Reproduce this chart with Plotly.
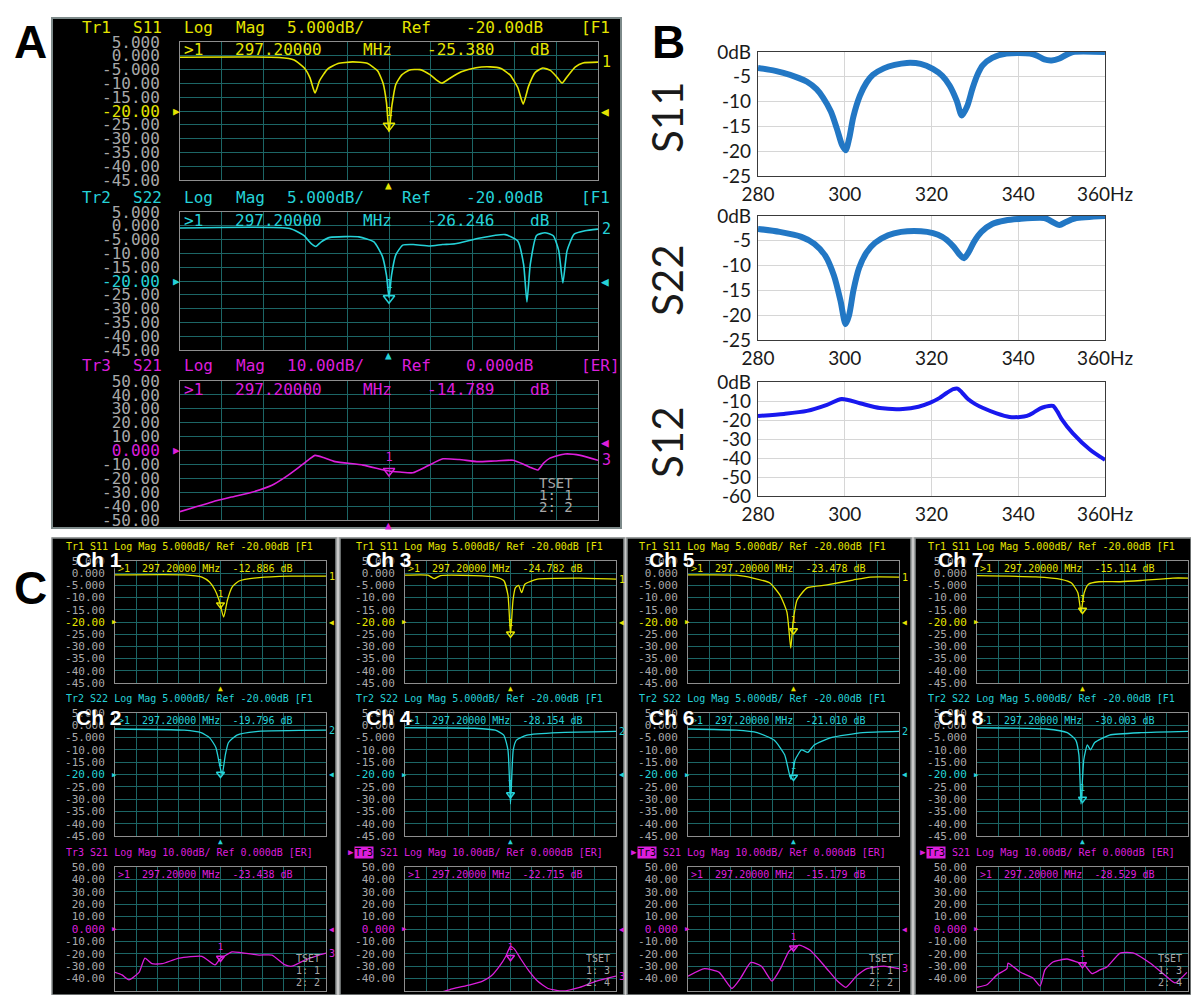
import re
import plotly.graph_objects as go

W, H = 1191, 995
def px(x): return x / W
def py(y): return 1 - y / H

# ---------------- data ----------------
F0, F1 = 247.2, 347.2          # VNA sweep (MHz), 10 MHz / div
MARK_F = 297.2                  # marker 1 frequency

# Panel A (VNA, one device)
A_S11_F = [247.2, 270.9, 274.5, 277.0, 278.3, 279.5, 280.6, 282.5, 285.0, 288.5, 292.0, 294.5, 295.8, 296.6, 297.2, 297.9, 298.8, 300.2, 302.0, 304.6, 307.0, 308.6, 309.9, 311.5, 314.5, 318.0, 321.4, 324.0, 326.2, 328.0, 329.3, 330.6, 332.2, 334.0, 335.8, 337.4, 338.6, 340.0, 341.8, 343.6, 347.2]
A_S11_DB = [-0.5, -0.6, -1.5, -4.5, -8.0, -13.5, -9.0, -4.8, -2.8, -2.2, -2.7, -5.5, -10.0, -17.0, -27.5, -18.0, -10.5, -7.0, -5.2, -5.0, -6.8, -8.8, -9.9, -8.4, -5.8, -4.3, -4.0, -4.6, -7.0, -11.5, -17.5, -11.0, -6.0, -4.4, -5.3, -7.8, -9.9, -7.2, -4.0, -2.6, -2.3]
A_S22_F = [247.2, 273.5, 276.8, 278.6, 279.7, 281.0, 283.1, 290.0, 293.6, 295.6, 296.6, 297.2, 297.8, 298.8, 300.5, 303.0, 307.0, 310.0, 313.0, 319.0, 325.0, 328.0, 329.4, 330.2, 331.0, 332.5, 334.5, 336.5, 337.8, 338.8, 339.8, 341.5, 344.1, 347.2]
A_S22_DB = [-0.8, -1.0, -3.5, -6.5, -7.5, -5.8, -4.2, -4.0, -5.8, -11.0, -18.0, -26.0, -18.0, -10.6, -7.0, -6.8, -7.3, -6.8, -6.5, -4.4, -3.2, -5.5, -14.0, -27.6, -14.0, -3.5, -2.5, -3.6, -9.0, -20.7, -9.0, -3.0, -1.8, -1.2]
A_S21_F = [247.2, 250.5, 254.9, 259.5, 264.4, 269.2, 272.5, 275.7, 278.0, 279.5, 281.5, 284.3, 291.0, 297.2, 299.8, 302.9, 306.5, 310.1, 314.0, 318.2, 322.5, 326.9, 329.5, 330.9, 332.8, 334.2, 335.7, 339.3, 343.0, 347.2]
A_S21_DB = [-44.0, -41.0, -37.0, -33.5, -30.0, -25.0, -19.0, -12.0, -6.5, -3.5, -5.0, -8.0, -10.5, -14.8, -15.5, -16.0, -11.0, -6.0, -6.5, -8.0, -7.5, -7.0, -10.0, -12.0, -14.0, -9.0, -5.5, -2.5, -3.5, -7.0]
A_MARK = [-25.380, -26.246, -14.789]

# Panel B (simulation)
B_F_TICKS = [280, 300, 320, 340, 360]
B_F_LABELS = ["280", "300", "320", "340", "360Hz"]
B_S11_F = [280, 284, 287.4, 291.3, 293.5, 295.0, 296.8, 298.2, 299.4, 300.2, 301.0, 302.0, 303.5, 305.0, 306.5, 309.0, 311.5, 314.3, 317.5, 320.3, 322.5, 324.2, 325.8, 327.0, 328.2, 329.5, 330.8, 331.8, 334.0, 337.3, 342.7, 344.5, 346.0, 347.7, 349.5, 351.0, 352.6, 360]
B_S11_DB = [-3.2, -3.8, -4.6, -6.0, -7.5, -9.2, -12.0, -15.5, -18.8, -19.8, -17.5, -13.0, -8.8, -6.2, -4.6, -3.3, -2.6, -2.2, -2.4, -3.4, -4.8, -6.8, -9.8, -12.8, -11.0, -7.2, -4.2, -2.7, -1.2, -0.3, -0.3, -0.8, -1.5, -1.7, -1.3, -0.6, 0.0, 0.0]
B_S22_F = [280, 285, 290, 293, 295.5, 297.5, 299.0, 300.2, 301.0, 302.0, 303.3, 305.0, 307.0, 310.0, 313.0, 316.0, 319.0, 321.5, 323.5, 325.2, 326.5, 327.5, 328.5, 329.8, 331.5, 334.0, 337.0, 340.0, 346.0, 347.5, 349.5, 351.0, 353.0, 360]
B_S22_DB = [-2.6, -3.2, -4.2, -5.6, -8.0, -12.0, -17.0, -21.8, -20.0, -15.0, -10.5, -7.4, -5.4, -3.9, -3.2, -3.0, -3.2, -3.8, -4.8, -6.3, -7.8, -8.5, -7.4, -5.2, -3.2, -1.6, -0.9, -0.6, -0.4, -1.0, -1.8, -1.2, -0.5, 0.0]
B_S12_F = [280, 286, 291.3, 295.9, 299.3, 303.5, 308.1, 313.4, 317.0, 319.6, 321.8, 323.5, 325.0, 326.0, 327.0, 328.4, 330.0, 331.9, 335, 338, 340.4, 342.0, 343.4, 345.0, 346.2, 348, 349.0, 350, 352.6, 356.5, 360]
B_S12_DB = [-17.9, -16.8, -15.2, -12.0, -8.9, -11.2, -13.7, -14.2, -13.0, -11.0, -8.5, -5.8, -3.8, -3.5, -5.5, -9.0, -11.5, -13.7, -16.5, -18.4, -18.4, -17.8, -16.3, -14.0, -13.0, -12.6, -15.5, -19.5, -27.0, -35.5, -41.0]

# Panel C (VNA, 8 channels: Ch1/Ch2, Ch3/Ch4, Ch5/Ch6, Ch7/Ch8)
C_S11_F = [
    [247.2, 280, 288.4, 292, 294.6, 296.5, 298.7, 300.5, 302.7, 306, 315.5, 330, 347.2],
    [247.2, 258, 261, 264, 280, 290, 294, 296, 297.2, 298.4, 299.5, 301, 302.5, 304, 310, 330, 347.2],
    [247.2, 270, 278, 286, 290.8, 294.1, 295.9, 297.0, 298.9, 303.6, 313.1, 325.4, 333.5, 347.2],
    [247.2, 275, 287, 292, 295, 296.5, 298, 300, 305, 315, 325, 340, 347.2],
]
C_S11_DB = [
    [-0.7, -0.7, -1.6, -3.6, -6.9, -11.0, -18.0, -11.0, -5.7, -3.2, -1.8, -1.2, -1.2],
    [-0.8, -0.8, -2.2, -1.0, -1.0, -1.6, -3.0, -9.0, -25.0, -11.0, -6.0, -5.0, -8.0, -4.5, -2.4, -2.0, -2.4],
    [-0.7, -0.8, -2.0, -4.0, -9.0, -16.0, -30.7, -20.0, -11.0, -6.0, -4.8, -2.8, -1.6, -1.6],
    [-1.0, -1.5, -2.5, -4.0, -8.0, -16.0, -8.0, -4.5, -3.5, -3.5, -3.0, -2.0, -2.0],
]
C_S22_F = [
    [247.2, 280, 288, 292, 295, 297, 298, 299.5, 301, 305, 315, 347.2],
    [247.2, 280, 290, 294, 296, 297.2, 298.5, 300, 305, 320, 347.2],
    [247.2, 270, 280, 288, 293, 296, 298, 301, 304, 307, 315, 330, 347.2],
    [247.2, 280, 290, 294, 295.5, 296.5, 297.8, 299.5, 301, 303, 310, 325, 347.2],
]
C_S22_DB = [
    [-1.5, -2.0, -3.0, -5.0, -9.0, -17.0, -20.0, -12.0, -7.0, -4.0, -2.5, -2.0],
    [-1.0, -1.2, -2.0, -4.0, -10.0, -32.0, -10.0, -6.0, -4.0, -3.0, -2.5],
    [-1.5, -2.0, -3.0, -6.0, -12.0, -22.0, -14.0, -10.0, -11.0, -8.0, -5.0, -3.0, -2.5],
    [-1.0, -1.5, -3.0, -6.0, -12.0, -32.0, -14.0, -8.0, -10.0, -7.0, -4.0, -3.0, -2.5],
]
C_S21_F = [
    [247.2, 250.5, 253.8, 258.6, 261.4, 264.7, 269.5, 277.5, 288.4, 294.6, 297.2, 298.9, 302.7, 315.5, 321.6, 327.8, 331.1, 337.3, 343.9, 347.2],
    [247.2, 262, 270, 278, 284, 288, 292, 295, 297.2, 299, 302, 306, 310, 315, 322, 330, 338, 347.2],
    [247.2, 255, 262, 268, 272, 277, 282, 287, 291, 295, 297.2, 300, 305, 312, 318, 322, 327, 332, 340, 347.2],
    [247.2, 251.9, 256.7, 261.4, 261.9, 267.6, 273.7, 277.1, 279.4, 283.2, 289.9, 296.0, 297.4, 301.7, 305.5, 308.8, 315.0, 321.1, 329.2, 337.3, 341.1, 346.7],
]
C_S21_DB = [
    [-35, -37, -41, -35, -23.5, -28, -28, -23.5, -22, -29, -23.4, -22, -18.5, -21, -21, -29, -30, -25, -21, -19.5],
    [-55, -52, -48, -45, -42, -38, -30, -22, -14, -16, -24, -34, -42, -48, -50, -47, -42, -38],
    [-38, -32, -35, -48, -40, -27, -30, -42, -32, -18, -15, -13, -17, -30, -42, -47, -38, -32, -30, -32],
    [-47, -45, -37, -32, -27.5, -34.7, -39.5, -46, -33, -26.6, -24.2, -27.4, -27.4, -36, -33, -30.6, -19.4, -19.2, -27.4, -38.7, -43.5, -35],
]
C_MARK_S11 = [-12.886, -24.782, -23.478, -15.114]
C_MARK_S22 = [-19.796, -28.154, -21.010, -30.003]
C_MARK_S21 = [-23.438, -22.715, -15.179, -28.529]
C_CH_TOP = ["Ch 1", "Ch 3", "Ch 5", "Ch 7"]
C_CH_MID = ["Ch 2", "Ch 4", "Ch 6", "Ch 8"]
C_TSET = [("1: 1", "2: 2"), ("1: 3", "2: 4"), ("1: 1", "2: 2"), ("1: 3", "2: 4")]

LOG5_VALS = [5, 0, -5, -10, -15, -20, -25, -30, -35, -40, -45]
LOG5_TEXT = ["5.000", "0.000", "-5.000", "-10.00", "-15.00", "-20.00", "-25.00", "-30.00", "-35.00", "-40.00", "-45.00"]
LOG10_VALS = [50, 40, 30, 20, 10, 0, -10, -20, -30, -40, -50]
LOG10_TEXT = ["50.00", "40.00", "30.00", "20.00", "10.00", "0.000", "-10.00", "-20.00", "-30.00", "-40.00", "-50.00"]

# ---------------- styles ----------------
YEL, CYN, MAG = "#e4e400", "#25d2d8", "#dc1edc"
GRID, FRAME, TICK = "#1c6666", "#8e8e8e", "#a8a8a8"
MONO = "DejaVu Sans Mono"
SANS = "Lato"

fig = go.Figure()
axes_layout = {}
count = [0]
shapes = []


def new_axes(x0, x1, y0, y1, xa, ya):
    count[0] += 1
    s = "" if count[0] == 1 else str(count[0])
    axes_layout["xaxis" + s] = dict(domain=[px(x0), px(x1)], anchor="y" + s, automargin=False, **xa)
    axes_layout["yaxis" + s] = dict(domain=[py(y1), py(y0)], anchor="x" + s, automargin=False, **ya)
    return "x" + s, "y" + s


def ann(x, y, text, size, color, family=MONO, xanchor="left", **kw):
    fk = kw.pop("fontkw", {})
    fig.add_annotation(x=px(x), y=py(y), xref="paper", yref="paper", text=text,
                       showarrow=False, xanchor=xanchor, yanchor="middle",
                       font=dict(family=family, size=size, color=color, **fk), **kw)


def wide_text(s, x0, y, cw, size, color):
    for m in re.finditer(r"\S+", s):
        ann(x0 + m.start() * cw, y, m.group(), size, color)


def vna(x0, x1, y0, y1, vals, texts, ref, color, fsize, standoff, f, db, mark, msize, lw):
    lo, hi = vals[-1], vals[0]
    tt = [('<span style="color:%s">%s</span>' % (color, t)) if v == ref else t for v, t in zip(vals, texts)]
    xa = dict(range=[F0, F1], tick0=F0, dtick=10, showgrid=True, gridcolor=GRID, gridwidth=1,
              showticklabels=False, ticks="", showline=True, mirror=True, linecolor=FRAME,
              linewidth=1, zeroline=False, fixedrange=True)
    ya = dict(range=[lo, hi], tickmode="array", tickvals=vals, ticktext=tt, showgrid=True,
              gridcolor=GRID, gridwidth=1, ticks="", showline=True, mirror=True, linecolor=FRAME,
              linewidth=1, zeroline=False, fixedrange=True, ticklabelstandoff=standoff,
              tickfont=dict(family=MONO, size=fsize, color=TICK))
    xr, yr = new_axes(x0, x1, y0, y1, xa, ya)
    fig.add_trace(go.Scatter(x=f, y=db, xaxis=xr, yaxis=yr, mode="lines",
                             line=dict(color=color, width=lw, shape="spline", smoothing=0.5),
                             hoverinfo="skip", showlegend=False))
    fig.add_trace(go.Scatter(x=[MARK_F], y=[mark], xaxis=xr, yaxis=yr, mode="markers+text",
                             marker=dict(symbol="triangle-down-open", size=msize, color=color,
                                         line=dict(color=color, width=1.5)),
                             text=["1"], textposition="top center",
                             textfont=dict(family=MONO, size=msize + 2, color=color),
                             cliponaxis=False, hoverinfo="skip", showlegend=False))
    yref = y0 + (hi - ref) / (hi - lo) * (y1 - y0)
    yend = y0 + (hi - db[-1]) / (hi - lo) * (y1 - y0)
    return yref, yend


def bplot(y0, y1, vals, texts, f, db, color, lw):
    xa = dict(range=[280, 360], tickmode="array", tickvals=B_F_TICKS, ticktext=B_F_LABELS,
              showgrid=True, gridcolor="#d6d6d6", showline=True, mirror=True, linecolor="#3a3a3a",
              linewidth=1.2, zeroline=False, ticks="", fixedrange=True, ticklabelstandoff=1,
              tickfont=dict(family=SANS, size=19, color="#1a1a1a"))
    ya = dict(range=[vals[-1], vals[0]], tickmode="array", tickvals=vals, ticktext=texts,
              showgrid=True, gridcolor="#d6d6d6", showline=True, mirror=True, linecolor="#3a3a3a",
              linewidth=1.2, zeroline=False, ticks="", fixedrange=True, ticklabelstandoff=2,
              tickfont=dict(family=SANS, size=19, color="#1a1a1a"))
    xr, yr = new_axes(758, 1105, y0, y1, xa, ya)
    fig.add_trace(go.Scatter(x=f, y=db, xaxis=xr, yaxis=yr, mode="lines",
                             line=dict(color=color, width=lw, shape="spline", smoothing=0.8),
                             hoverinfo="skip", showlegend=False))


def rect(x0, y0, x1, y1, fill, line=None, lw=0):
    shapes.append(dict(type="rect", xref="paper", yref="paper", x0=px(x0), x1=px(x1),
                       y0=py(y1), y1=py(y0), fillcolor=fill, layer="below",
                       line=dict(color=line or fill, width=lw)))


# ---------------- backgrounds ----------------
rect(52, 18, 621, 528, "black", "#7d8a8a", 2)
rect(52, 537, 1191, 995, "#c9c9c9")
for cx0, cx1 in [(52, 336), (340, 624), (627, 911), (915, 1191)]:
    rect(cx0, 538, cx1, 995, "black", "#8a9090", 1.5)

# ---------------- panel A ----------------
A_ROWS = [
    (42, 180, LOG5_VALS, LOG5_TEXT, -20, YEL, A_S11_F, A_S11_DB, A_MARK[0], "Tr1 S11 Log Mag 5.000dB/ Ref  -20.00dB [F1", "1"),
    (212, 350, LOG5_VALS, LOG5_TEXT, -20, CYN, A_S22_F, A_S22_DB, A_MARK[1], "Tr2 S22 Log Mag 5.000dB/ Ref  -20.00dB [F1", "2"),
    (381, 520, LOG10_VALS, LOG10_TEXT, 0, MAG, A_S21_F, A_S21_DB, A_MARK[2], "Tr3 S21 Log Mag 10.00dB/ Ref  0.000dB  [ER]", "3"),
]
for (y0, y1, vals, texts, ref, col, f, db, mk, head, num) in A_ROWS:
    yref, yend = vna(180, 598, y0, y1, vals, texts, ref, col, 16, 16, f, db, mk, 10, 1.6)
    wide_text(head, 80, y0 - 15, 12.8, 16, col)
    wide_text(">1  297.20000 MHz  %.3f dB" % mk, 182, y0 + 8, 12.8, 16, col)
    ann(600, yend, num, 15, col)
    ann(599, yref - 8 if num == "3" else yref, "◀", 13, col)
    ann(171, yref, "▶", 11, col)
    ann(389, y1 + 5, "▲", 11, col, xanchor="center")
for i, t in enumerate(["TSET", "1: 1", "2: 2"]):
    ann(537, 483 + 12 * i, t, 14, TICK)

# ---------------- panel B ----------------
bplot(52, 176, [0, -5, -10, -15, -20, -25], ["0dB", "-5", "-10", "-15", "-20", "-25"], B_S11_F, B_S11_DB, "#2277c4", 6)
bplot(216, 340, [0, -5, -10, -15, -20, -25], ["0dB", "-5", "-10", "-15", "-20", "-25"], B_S22_F, B_S22_DB, "#2277c4", 6)
bplot(382, 496, [0, -10, -20, -30, -40, -50, -60], ["0dB", "-10", "-20", "-30", "-40", "-50", "-60"], B_S12_F, B_S12_DB, "#1818ee", 4)
for lab, yc in [("S11", 117), ("S22", 280), ("S12", 442)]:
    ann(667, yc, lab, 42, "#1a1a1a", family=SANS, xanchor="center", textangle=-90)

# ---------------- panel C ----------------
C_LEFT = [115, 405, 688, 977]
C_ROWS = [(561, 683), (713, 836), (867, 991)]
for c in range(4):
    xl = C_LEFT[c]
    xr_ = xl + 211
    specs = [
        (LOG5_VALS, LOG5_TEXT, -20, YEL, C_S11_F[c], C_S11_DB[c], C_MARK_S11[c], "Tr1 S11 Log Mag 5.000dB/ Ref -20.00dB [F1", "1"),
        (LOG5_VALS, LOG5_TEXT, -20, CYN, C_S22_F[c], C_S22_DB[c], C_MARK_S22[c], "Tr2 S22 Log Mag 5.000dB/ Ref -20.00dB [F1", "2"),
        (LOG10_VALS, LOG10_TEXT, 0, MAG, C_S21_F[c], C_S21_DB[c], C_MARK_S21[c], "Tr3 S21 Log Mag 10.00dB/ Ref 0.000dB [ER]", "3"),
    ]
    for r, (vals, texts, ref, col, f, db, mk, head, num) in enumerate(specs):
        y0, y1 = C_ROWS[r]
        yref, yend = vna(xl, xr_, y0, y1, vals, texts, ref, col, 11, 7, f, db, mk, 7, 1.3)
        if r == 2 and c > 0:
            ann(xl - 59, y0 - 15, "▶", 9, col)
            ann(xl - 51, y0 - 15, "Tr3", 10, "black", bgcolor=col, borderpad=0)
            ann(xl - 51 + 24, y0 - 15, head[4:], 10, col)
        else:
            ann(xl - 51, y0 - 15, head, 10, col)
        ann(xl + 1, y0 + 7, ">1  297.20000 MHz  %.3f dB" % mk, 10, col)
        ann(xr_ + 1, yend, num, 10, col)
        ann(xr_ + 1, yref, "◀", 8, col)
        ann(xl - 5, yref, "▶", 7, col)
        ann(xl + 105.5, y1 + 5, "▲", 8, col, xanchor="center")
    for i, t in enumerate(["TSET", C_TSET[c][0], C_TSET[c][1]]):
        ann(xr_ - 32, 958 + 12 * i, t, 10, TICK)
    ann(xl - 41, 559, C_CH_TOP[c], 21, "white", family="Liberation Sans",
        fontkw=dict(weight="bold", shadow="1px 1px 2px #000"))
    ann(xl - 41, 717, C_CH_MID[c], 21, "white", family="Liberation Sans",
        fontkw=dict(weight="bold", shadow="1px 1px 2px #000"))

# ---------------- panel letters ----------------
for lab, x, y in [("A", 31, 42), ("B", 668, 42), ("C", 30, 588)]:
    ann(x, y, lab, 46, "black", family="Liberation Sans", xanchor="center", fontkw=dict(weight="bold"))

fig.update_layout(template="none", width=W, height=H, autosize=False,
                  margin=dict(l=0, r=0, t=0, b=0, pad=0),
                  paper_bgcolor="white", plot_bgcolor="rgba(0,0,0,0)",
                  showlegend=False, shapes=shapes, **axes_layout)
fig.write_html("out.html")
